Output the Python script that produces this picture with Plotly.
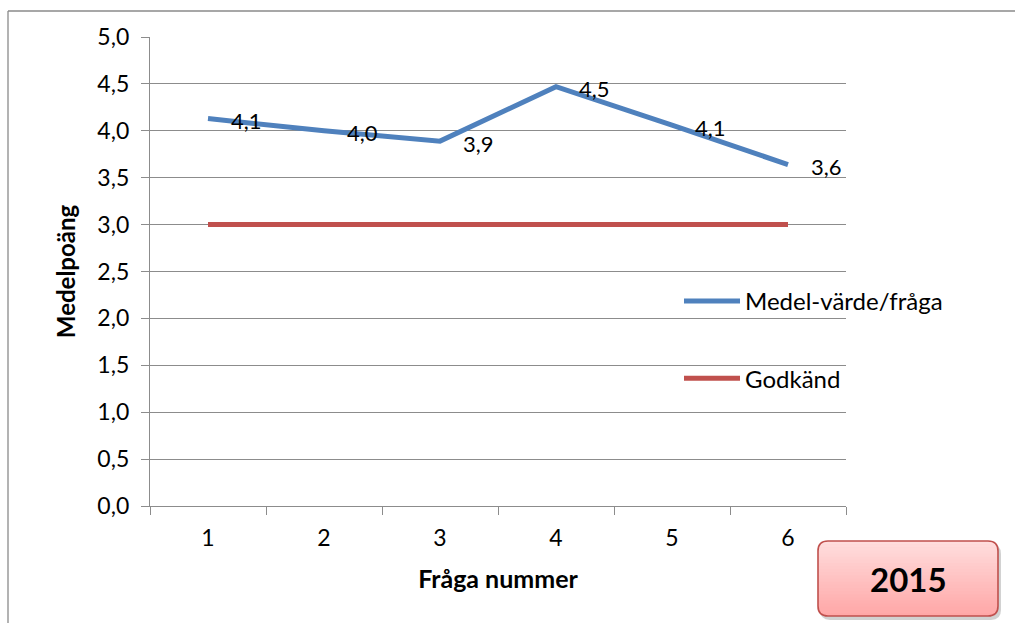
import math
import plotly.graph_objects as go

# ---- data ----
questions = ["1", "2", "3", "4", "5", "6"]
mean_values = [4.13, 4.00, 3.89, 4.47, 4.06, 3.64]
pass_values = [3.0, 3.0, 3.0, 3.0, 3.0, 3.0]
series_names = ["Medel-värde/fråga", "Godkänd"]
y_ticks = [0, 0.5, 1, 1.5, 2, 2.5, 3, 3.5, 4, 4.5, 5]
x_title = "Fråga nummer"
y_title = "Medelpoäng"
year_label = "2015"

W, H = 1015, 623
ML, MR, MT, MB = 150, 169, 37, 117
PW = W - ML - MR
PH = H - MT - MB

FONT = "Lato"
BLUE = "#4f81bd"
RED = "#c0504d"
GRID = "#8c8c8c"


def px2paper(x, y):
    return (x - ML) / PW, (H - MB - y) / PH


fig = go.Figure()
fig.add_trace(go.Scatter(
    x=questions, y=mean_values, mode="lines", name=series_names[0],
    line=dict(color=BLUE, width=5), legendgroup="a", hoverinfo="skip"))
fig.add_trace(go.Scatter(
    x=questions, y=pass_values, mode="lines", name=series_names[1],
    line=dict(color=RED, width=5), legendgroup="b", hoverinfo="skip"))

# data labels (x given as category index)
for i, v in enumerate(mean_values):
    fig.add_annotation(x=i, y=v, xref="x", yref="y", text=f"{v:.1f}".replace(".", ","),
                       showarrow=False, xanchor="left", yanchor="middle",
                       xshift=21, yshift=-2,
                       font=dict(family=FONT, size=22, color="#000"))

shapes = []
# outer chart border (left and top)
x0, y0 = px2paper(8, 11)
x1, _ = px2paper(1016, 11)
_, yb = px2paper(8, 624)
shapes.append(dict(type="line", xref="paper", yref="paper", x0=x0, y0=y0, x1=x1, y1=y0,
                   line=dict(color="#8a8a8a", width=1.3), layer="below"))
shapes.append(dict(type="line", xref="paper", yref="paper", x0=x0, y0=y0, x1=x0, y1=yb,
                   line=dict(color="#8a8a8a", width=1.3), layer="below"))

# 2015 box
L, R, T, B, r = 818, 998, 541, 616, 10


def rounded_path(L, R, T, B, r):
    def P(x, y):
        a, b = px2paper(x, y)
        return f"{a:.5f},{b:.5f}"
    return (f"M{P(L + r, T)} L{P(R - r, T)} Q{P(R, T)} {P(R, T + r)} "
            f"L{P(R, B - r)} Q{P(R, B)} {P(R - r, B)} L{P(L + r, B)} "
            f"Q{P(L, B)} {P(L, B - r)} L{P(L, T + r)} Q{P(L, T)} {P(L + r, T)} Z")


# shadow
shapes.append(dict(type="path", xref="paper", yref="paper",
                   path=rounded_path(L + 2, R + 3, T + 3, B + 4, r),
                   fillcolor="rgba(0,0,0,0.18)", line=dict(width=0)))
shapes.append(dict(type="path", xref="paper", yref="paper",
                   path=rounded_path(L, R, T, B, r),
                   fillcolor="#ffc4c4", line=dict(width=0)))


def inset(y):
    d = min(y - T, B - y)
    if d >= r:
        return 0.0
    d = max(d, 0)
    return r - math.sqrt(max(r * r - (r - d) ** 2, 0))


nb = 24
c_top = (255, 222, 222)
c_bot = (255, 166, 166)
for i in range(nb):
    ya = T + (B - T) * i / nb
    yb2 = min(T + (B - T) * (i + 1) / nb + 0.6, B)
    t = (i + 0.5) / nb
    col = tuple(round(c_top[k] + (c_bot[k] - c_top[k]) * t) for k in range(3))
    ys = [ya + (yb2 - ya) * j / 4 for j in range(5)]
    left = [(L + inset(y), y) for y in ys]
    right = [(R - inset(y), y) for y in reversed(ys)]
    pts = left + right
    path = "M" + " L".join("{:.5f},{:.5f}".format(*px2paper(x, y)) for x, y in pts) + " Z"
    shapes.append(dict(type="path", xref="paper", yref="paper", path=path,
                       fillcolor="rgb(%d,%d,%d)" % col, line=dict(width=0)))

shapes.append(dict(type="path", xref="paper", yref="paper",
                   path=rounded_path(L, R, T, B, r),
                   fillcolor="rgba(0,0,0,0)", line=dict(color=RED, width=1.6)))

cx, cy = px2paper((L + R) / 2, (T + B) / 2)
fig.add_annotation(xref="paper", yref="paper", x=cx, y=cy, text=f"<b>{year_label}</b>",
                   showarrow=False, xanchor="center", yanchor="middle",
                   font=dict(family=FONT, size=33, color="#000"))

lx, ly = px2paper(679, 279)

fig.update_layout(
    width=W, height=H,
    margin=dict(l=ML, r=MR, t=MT, b=MB, pad=0),
    paper_bgcolor="white", plot_bgcolor="white",
    separators=", ",
    font=dict(family=FONT, size=22, color="#000"),
    showlegend=True,
    legend=dict(x=lx, y=ly, xanchor="left", yanchor="top",
                bgcolor="rgba(0,0,0,0)", traceorder="grouped",
                tracegroupgap=43, font=dict(family=FONT, size=24, color="#000"),
                itemwidth=56),
    shapes=shapes,
    xaxis=dict(type="category", range=[-0.5, 5.5], tickson="boundaries", ticks="outside",
               ticklen=8, tickcolor=GRID, tickwidth=1.3, showline=True, linecolor=GRID,
               linewidth=1.3, showgrid=False, tickfont=dict(family=FONT, size=23, color="#000"),
               ticklabelstandoff=11,
               title=dict(text=f"<b>{x_title}</b>", font=dict(family=FONT, size=25, color="#000"),
                          standoff=20),
               fixedrange=True),
    yaxis=dict(range=[0, 5], tickvals=y_ticks, tickformat=".1f", ticks="outside", ticklen=8,
               tickcolor=GRID, tickwidth=1.3, showline=True, linecolor=GRID, linewidth=1.3,
               showgrid=True, gridcolor=GRID, gridwidth=1.3, zeroline=False,
               tickfont=dict(family=FONT, size=23, color="#000"), ticklabelstandoff=7,
               title=dict(text=f"<b>{y_title}</b>", font=dict(family=FONT, size=24, color="#000"),
                          standoff=14),
               fixedrange=True),
)

fig.write_html("out.html", config={"displayModeBar": False},
               post_script="document.body.style.margin='0';")
